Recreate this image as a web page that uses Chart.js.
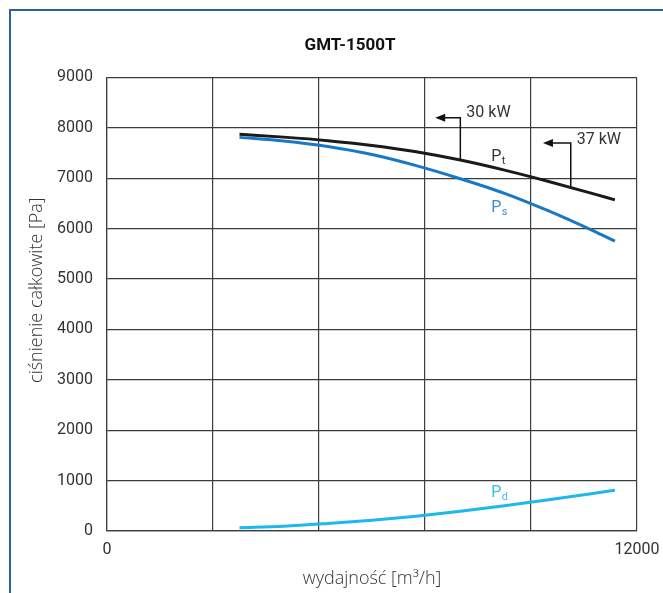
<!DOCTYPE html>
<html>
<head>
<meta charset="utf-8">
<script src="https://cdn.jsdelivr.net/npm/chart.js@4.4.1/dist/chart.umd.min.js"></script>
<style>
    html, body { margin: 0; padding: 0; background: #fff; overflow: hidden; }
    #frame {
        position: absolute; left: 9px; top: 9px; width: 800px; height: 700px;
        border-left: 2px solid #2c5f9c; border-top: 2px solid #2c5f9c;
    }
    #wrap { position: absolute; left: 0; top: 0; width: 700px; height: 593px; }
</style>
</head>
<body>
<div id="frame"></div>
<div id="wrap"><canvas id="chart"></canvas></div>
<script>
// Data
const flow = [3000, 4000, 5000, 6000, 7000, 8000, 9000, 10000, 11000, 11500];
const pTotal = [7870, 7815, 7745, 7650, 7525, 7360, 7160, 6935, 6695, 6570];
const pStatic = [7810, 7740, 7630, 7470, 7250, 6990, 6700, 6350, 5960, 5750];
const pDynamic = [65, 95, 150, 215, 295, 390, 500, 620, 745, 810];

const yTicks = [0, 1000, 2000, 3000, 4000, 5000, 6000, 7000, 8000, 9000];
const xLabels = [0, 12000];

// power markers (leader line on the Pt curve)
const powerLabels = ['30 kW', '37 kW'];
const powerFlow = [8000, 10500];
const powerBase = [7365, 6830];
const powerTop = [8200, 7700];
const powerTip = [7430, 9870];
const powerTextY = [8300, 7760];

// curve names
const curveNames = [['P', 't'], ['P', 's'], ['P', 'd']];
const curveColors = ['#333333', '#3a8ad0', '#35bdee'];
const curveLabelX = [8700, 8700, 8700];
const curveLabelY = [7335, 6324, 674];

const FONT = "Roboto, 'DejaVu Sans', sans-serif";
const TITLE_FONT = "'Open Sans', Roboto, sans-serif";

const annotations = {
    id: 'annotations',
    afterDatasetsDraw(chart) {
        const ctx = chart.ctx;
        const xs = chart.scales.x, ys = chart.scales.y;
        ctx.save();
        // power leader lines
        powerLabels.forEach((label, i) => {
            const x = xs.getPixelForValue(powerFlow[i]);
            const yb = ys.getPixelForValue(powerBase[i]);
            const yt = ys.getPixelForValue(powerTop[i]);
            const xt = xs.getPixelForValue(powerTip[i]);
            ctx.strokeStyle = '#111';
            ctx.lineWidth = 1.5;
            ctx.beginPath();
            ctx.moveTo(x, yb);
            ctx.lineTo(x, yt);
            ctx.lineTo(xt + 8, yt);
            ctx.stroke();
            ctx.fillStyle = '#111';
            ctx.beginPath();
            ctx.moveTo(xt, yt);
            ctx.lineTo(xt + 10, yt - 4);
            ctx.lineTo(xt + 10, yt + 4);
            ctx.closePath();
            ctx.fill();
            ctx.font = '16px ' + FONT;
            ctx.fillStyle = '#333';
            ctx.textAlign = 'left';
            ctx.textBaseline = 'middle';
            ctx.fillText(label, x + 6, ys.getPixelForValue(powerTextY[i]));
        });
        // curve names with subscript
        curveNames.forEach((name, i) => {
            const x = xs.getPixelForValue(curveLabelX[i]);
            const y = ys.getPixelForValue(curveLabelY[i]);
            ctx.fillStyle = curveColors[i];
            ctx.textAlign = 'left';
            ctx.textBaseline = 'alphabetic';
            ctx.font = '16px ' + FONT;
            ctx.fillText(name[0], x, y);
            const w = ctx.measureText(name[0]).width;
            ctx.font = '11px ' + FONT;
            ctx.fillText(name[1], x + w + 0.5, y + 3);
        });
        ctx.restore();
    }
};

const ctx = document.getElementById('chart').getContext('2d');
new Chart(ctx, {
    type: 'line',
    data: {
        datasets: [
            {
                label: 'Pt',
                data: flow.map((f, i) => ({ x: f, y: pTotal[i] })),
                borderColor: '#1a1a1a',
                borderWidth: 3
            },
            {
                label: 'Ps',
                data: flow.map((f, i) => ({ x: f, y: pStatic[i] })),
                borderColor: '#1878c8',
                borderWidth: 3
            },
            {
                label: 'Pd',
                data: flow.map((f, i) => ({ x: f, y: pDynamic[i] })),
                borderColor: '#1db8ec',
                borderWidth: 3
            }
        ]
    },
    options: {
        responsive: true,
        maintainAspectRatio: false,
        animation: false,
        layout: { padding: 0 },
        elements: {
            point: { radius: 0 },
            line: { cubicInterpolationMode: 'monotone', fill: false }
        },
        plugins: {
            legend: { display: false },
            tooltip: { enabled: false },
            title: {
                display: true,
                text: 'GMT-1500T',
                color: '#111',
                font: { family: FONT, size: 17, weight: 'bold' },
                padding: { top: 36, bottom: 21 }
            }
        },
        scales: {
            x: {
                type: 'linear',
                min: 0,
                max: 12000,
                grid: { color: '#3c3c3c', lineWidth: 1.2, drawTicks: false },
                border: { color: '#3c3c3c', width: 1.2 },
                ticks: {
                    stepSize: 2400,
                    padding: 9,
                    color: '#333',
                    font: { family: FONT, size: 16 },
                    maxRotation: 0,
                    autoSkip: false,
                    callback: v => xLabels.includes(v) ? String(v) : ''
                },
                title: {
                    display: true,
                    text: 'wydajność [m³/h]',
                    color: '#333',
                    font: { family: TITLE_FONT, size: 18, weight: 300 },
                    padding: { top: 0, bottom: 3 }
                },
                afterFit: s => { s.height = 62; }
            },
            y: {
                min: 0,
                max: 9000,
                afterBuildTicks: s => { s.ticks = yTicks.map(v => ({ value: v })); },
                grid: { color: '#3c3c3c', lineWidth: 1.2, drawTicks: false },
                border: { color: '#3c3c3c', width: 1.2 },
                ticks: {
                    padding: 14,
                    color: '#333',
                    font: { family: FONT, size: 16 },
                    callback: v => String(v)
                },
                title: {
                    display: true,
                    // leading spaces nudge the label up a little, as in the original
                    text: '\u00a0\u00a0\u00a0\u00a0\u00a0\u00a0ciśnienie całkowite [Pa]',
                    color: '#333',
                    font: { family: TITLE_FONT, size: 18, weight: 300 },
                    padding: { top: 26, bottom: 0 }
                },
                afterFit: s => { s.width = 107; }
            },
            // empty right-hand axis: keeps space on the right so the title centres like the original
            yRight: {
                position: 'right',
                min: 0,
                max: 9000,
                grid: { display: false },
                border: { display: false },
                ticks: { display: false },
                afterFit: s => { s.width = 63; }
            }
        }
    },
    plugins: [annotations]
});
</script>
</body>
</html>
